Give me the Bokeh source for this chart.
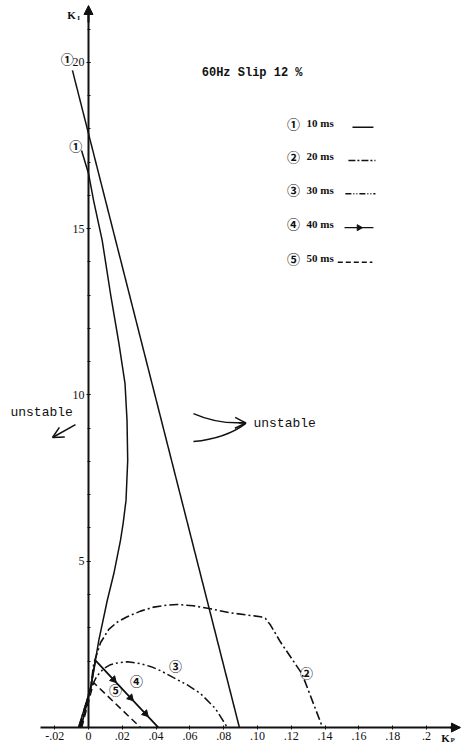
from bokeh.plotting import figure
from bokeh.models import FixedTicker, Arrow, OpenHead, NormalHead, Range1d
from bokeh.core.properties import value
from bokeh.embed import file_html
from bokeh.resources import INLINE

# Stability boundaries in the (Kp, Ki) plane, 60 Hz, slip 12 %

# (1) 10 ms: straight boundary
kp_10a = [-0.0095, 0.0893]
ki_10a = [19.76, 0.0]
# (1) 10 ms: curved boundary
kp_10b = [-0.0041, 0.0, 0.0030, 0.0081, 0.0130, 0.0180, 0.0216, 0.0228, 0.0232,
          0.0222, 0.0205, 0.0189, 0.0150, 0.0111, 0.0061, 0.0012, -0.0059]
ki_10b = [17.35, 16.66, 15.85, 14.65, 13.05, 11.55, 10.35, 9.23, 8.03,
          6.83, 6.14, 5.62, 4.63, 3.82, 2.62, 1.17, 0.0]
# (2) 20 ms
kp_20 = [-0.0058, 0.0012, 0.0031, 0.0071, 0.0120, 0.0170, 0.0229, 0.0308, 0.0386,
         0.0466, 0.0525, 0.0620, 0.0722, 0.0840, 0.0959, 0.1018, 0.1047, 0.1077,
         0.1136, 0.1264, 0.1385]
ki_20 = [0.0, 1.17, 1.92, 2.55, 2.95, 3.17, 3.33, 3.50, 3.62,
         3.68, 3.70, 3.66, 3.57, 3.45, 3.37, 3.33, 3.28, 3.08,
         2.57, 1.61, 0.0]
# (3) 30 ms
kp_30 = [-0.0052, 0.0012, 0.0050, 0.0089, 0.0130, 0.0178, 0.0231, 0.0308, 0.0370,
         0.0426, 0.0503, 0.0585, 0.0663, 0.0751, 0.0822]
ki_30 = [0.0, 1.17, 1.55, 1.77, 1.89, 1.95, 1.98, 1.92, 1.83,
         1.71, 1.50, 1.28, 1.02, 0.57, 0.0]
# (4) 40 ms
kp_40 = [-0.0045, 0.0012, 0.0041, 0.0414]
ki_40 = [0.0, 1.17, 2.02, 0.0]
kp_40_arrows = [0.0148, 0.0249, 0.0337]
# (5) 50 ms
kp_50 = [-0.0040, 0.0030, 0.0308]
ki_50 = [0.0, 1.35, 0.0]

kp_ticks = [-0.02, 0.0, 0.02, 0.04, 0.06, 0.08, 0.10, 0.12, 0.14, 0.16, 0.18, 0.2]
kp_tick_labels = ["-.02", "0", ".02", ".04", ".06", ".08", ".10", ".12",
                  ".14", ".16", ".18", ".2"]
ki_ticks = [5, 10, 15, 20]
ki_minor = list(range(1, 22))

delays = ["10", "20", "30", "40", "50"]
marks = ["\u2460", "\u2461", "\u2462", "\u2463", "\u2464"]

INK = "#111111"
SERIF = value("Liberation Serif")
MONO = value("Liberation Mono")
CIRC = value("Noto Sans CJK JP")

p = figure(width=465, height=743,
           x_range=Range1d(-0.05207, 0.22308), y_range=Range1d(-0.48, 21.86),
           toolbar_location=None, output_backend="svg", min_border=0,
           outline_line_color=None, background_fill_color="white")
p.grid.visible = False

# axes crossing at the origin
for ax in (p.xaxis[0], p.yaxis[0]):
    ax.fixed_location = 0
    ax.axis_line_color = INK
    ax.axis_line_width = 2
    ax.major_tick_line_color = INK
    ax.minor_tick_line_color = INK
    ax.major_tick_in = 2
    ax.major_tick_out = 2
    ax.minor_tick_in = 2
    ax.minor_tick_out = 1
    ax.major_label_text_font = "Liberation Serif"
    ax.major_label_text_font_size = "12px"
    ax.major_label_text_color = INK
    ax.major_label_standoff = 2

p.xaxis.ticker = FixedTicker(ticks=kp_ticks, minor_ticks=[])
p.xaxis.major_label_overrides = {t: s for t, s in zip(kp_ticks, kp_tick_labels)}
p.xaxis.bounds = (-0.0284, 0.2195)
p.yaxis.ticker = FixedTicker(ticks=ki_ticks, minor_ticks=ki_minor)
p.yaxis.bounds = (0, 21.6)

p.add_layout(Arrow(end=NormalHead(size=9, fill_color=INK, line_color=INK),
                   x_start=0.214, y_start=0, x_end=0.2201, y_end=0,
                   line_color=INK, line_width=2))
p.add_layout(Arrow(end=NormalHead(size=9, fill_color=INK, line_color=INK),
                   x_start=0, y_start=21.2, x_end=0, y_end=21.71,
                   line_color=INK, line_width=2))

# axis names
p.text(x=[-0.0100], y=[21.41], text=["K"], text_font=SERIF, text_font_style="bold",
       text_font_size="11px", text_align="center", text_baseline="middle", text_color=INK)
p.text(x=[-0.0058], y=[21.33], text=["I"], text_font=SERIF, text_font_style="bold",
       text_font_size="7px", text_align="center", text_baseline="middle", text_color=INK)
p.text(x=[0.2112], y=[-0.30], text=["K"], text_font=SERIF, text_font_style="bold",
       text_font_size="11px", text_align="center", text_baseline="middle", text_color=INK)
p.text(x=[0.2155], y=[-0.36], text=["P"], text_font=SERIF, text_font_style="bold",
       text_font_size="7px", text_align="center", text_baseline="middle", text_color=INK)

# boundaries
p.line(kp_10a, ki_10a, line_color=INK, line_width=1.5)
p.line(kp_10b, ki_10b, line_color=INK, line_width=1.5)
p.line(kp_20, ki_20, line_color=INK, line_width=1.6, line_dash="9 3 2 3")
p.line(kp_30, ki_30, line_color=INK, line_width=1.5, line_dash="9 3 2 3 2 3")
p.line(kp_40, ki_40, line_color=INK, line_width=1.8)
slope_40 = (ki_40[3] - ki_40[2]) / (kp_40[3] - kp_40[2])
ki_40_arrows = [ki_40[2] + slope_40 * (k - kp_40[2]) for k in kp_40_arrows]
p.scatter(kp_40_arrows, ki_40_arrows, marker="triangle", size=7, angle=-2.39,
          fill_color=INK, line_color=INK)
p.line(kp_50, ki_50, line_color=INK, line_width=1.5, line_dash="7 4")

# curve tags
tag_x = [-0.0125, -0.0076, 0.1290, 0.0515, 0.0284, 0.0160]
tag_y = [20.12, 17.50, 1.65, 1.86, 1.41, 1.14]
tag_t = [marks[0], marks[0], marks[1], marks[2], marks[3], marks[4]]
p.text(x=tag_x, y=tag_y, text=tag_t, text_font=CIRC, text_font_style="bold",
       text_font_size="13px", text_align="center", text_baseline="middle", text_color=INK)

# title and key
p.text(x=[0.0670], y=[19.67], text=["60Hz Slip 12 %"], text_font=MONO,
       text_font_style="bold", text_font_size="12px", text_baseline="middle", text_color=INK)

row_y = [18.17, 17.17, 16.17, 15.15, 14.11]
p.text(x=[0.1213] * 5, y=row_y, text=marks, text_font=CIRC,
       text_font_style="bold", text_font_size="13px", text_align="center",
       text_baseline="middle", text_color=INK)
p.text(x=[0.1290] * 5, y=row_y, text=[d + " ms" for d in delays], text_font=SERIF,
       text_font_style="bold", text_font_size="11px", text_baseline="middle", text_color=INK)
key_x0 = [0.1562, 0.1538, 0.1520, 0.1515, 0.1475]
key_x1 = [0.1686, 0.1698, 0.1698, 0.1686, 0.1680]
key_dash = ["solid", "7 2 2 2", "6 2 1 2 1 2", "solid", "5 3"]
for x0, x1, yy, dash in zip(key_x0, key_x1, row_y, key_dash):
    p.line([x0, x1], [yy - 0.12, yy - 0.12], line_color=INK, line_width=1.4, line_dash=dash)
p.scatter([(key_x0[3] + key_x1[3]) / 2], [row_y[3] - 0.12], marker="triangle", size=6,
          angle=-1.5708, fill_color=INK, line_color=INK)

# stability annotations
p.text(x=[-0.0462], y=[9.47], text=["unstable"], text_font=MONO, text_font_size="13px",
       text_baseline="middle", text_color=INK)
p.add_layout(Arrow(end=OpenHead(size=11, line_color=INK, line_width=1.5),
                   x_start=-0.0077, y_start=9.11, x_end=-0.0213, y_end=8.72,
                   line_color=INK, line_width=1.5))

p.text(x=[0.0976], y=[9.14], text=["unstable"], text_font=MONO, text_font_size="13px",
       text_baseline="middle", text_color=INK)
p.quadratic(x0=[0.0621, 0.0621], y0=[9.44, 8.60], x1=[0.0929, 0.0929], y1=[9.17, 9.14],
            cx=[0.0769, 0.0811], cy=[9.11, 8.69], line_color=INK, line_width=1.5)
p.add_layout(Arrow(end=OpenHead(size=11, line_color=INK, line_width=1.5),
                   x_start=0.0890, y_start=9.16, x_end=0.0932, y_end=9.155,
                   line_color=INK, line_width=1.5))

open("out.html", "w").write(file_html(p, INLINE))
